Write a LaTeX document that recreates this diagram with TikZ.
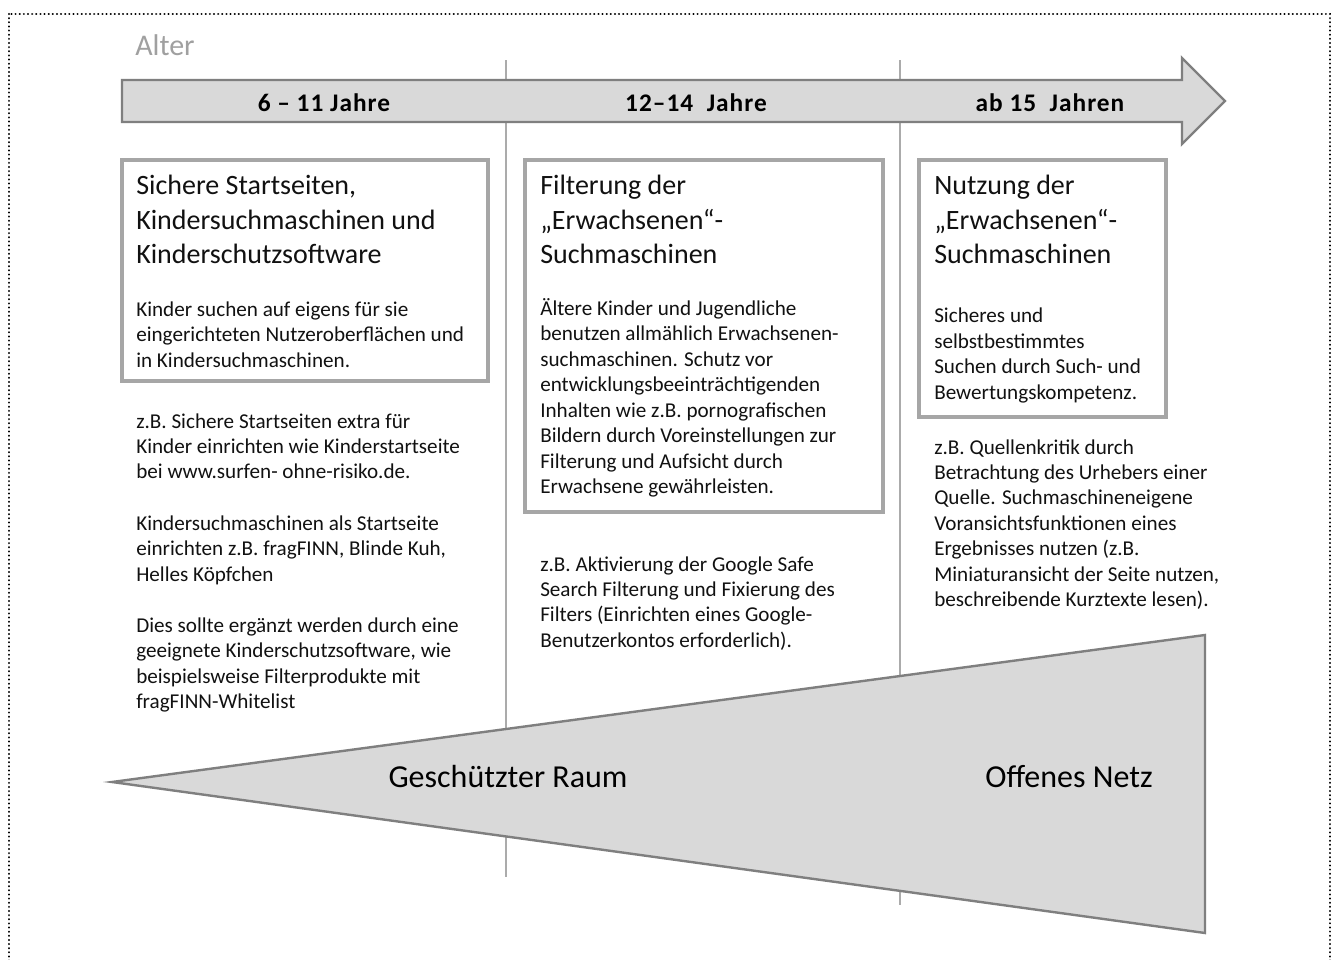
\documentclass[tikz,border=0pt]{standalone}
\usepackage{fontspec}
\setmainfont{Carlito}
\newfontfamily\hdrfont[LetterSpace=4]{Carlito}
\definecolor{shapefill}{HTML}{D9D9D9}
\definecolor{shapeline}{HTML}{7F7F7F}
\definecolor{boxgray}{HTML}{A6A6A6}
\definecolor{linegray}{HTML}{ABABAB}
\definecolor{altergray}{HTML}{A0A0A0}
\definecolor{txtcol}{HTML}{111111}
\newcommand{\bodyfont}{\fontsize{15.85pt}{19.1pt}\selectfont}
\newcommand{\titlefont}{\fontsize{21pt}{25.9pt}\selectfont}
\newcommand{\blk}[2]{\parbox[t]{#1}{\raggedright #2}}
\tikzset{
  hdr/.style={font=\hdrfont\bfseries\fontsize{19pt}{22pt}\selectfont, anchor=base, inner sep=0pt},
  txt/.style={inner sep=0pt, anchor=base west, text=txtcol},
  frame/.style={draw=boxgray, line width=3pt, fill=white},
  sepline/.style={draw=linegray, line width=1.5pt},
  grayshape/.style={fill=shapefill, draw=shapeline, line width=1.8pt, line join=miter},
  biglabel/.style={font=\fontsize{24pt}{28pt}\selectfont, anchor=base, inner sep=0pt}
}
\begin{document}
\begin{tikzpicture}[x=0.75pt,y=-0.75pt]
\useasboundingbox[fill=white] (0,0) rectangle (1332,960);
% dotted outer frame
\draw[dash pattern=on 0.1pt off 3pt, line cap=round, line width=1.6pt] (9,14) rectangle (1330,980);
% separators
\coordinate (s1t) at (506,60); \coordinate (s1b) at (506,877);
\coordinate (s2t) at (900,60); \coordinate (s2b) at (900,905);
\draw[sepline] (s1t) -- (s1b);
\draw[sepline] (s2t) -- (s2b);
% Alter
\node[anchor=base west, inner sep=0pt, text=altergray, font=\fontsize{22.5pt}{26pt}\selectfont] (alter) at (135,55) {Alter};
% age arrow
\draw[grayshape] (122,80) -- (1182,80) -- (1182,58) -- (1225,101) -- (1182,144) -- (1182,122) -- (122,122) -- cycle;
\node[hdr] (h1) at (324,111) {6 – 11 Jahre};
\node[hdr] (h2) at (696,111) {12–14\ \ Jahre};
\node[hdr] (h3) at (1050,111) {ab 15\ \ Jahren};
% boxes
\draw[frame] (122,160) rectangle (488,381);
\draw[frame] (525,160) rectangle (883,512);
\draw[frame] (919,160) rectangle (1166,417);
% box 1
\node[txt] (t1) at (136,194.5) {\blk{300pt}{\titlefont Sichere Startseiten,\\Kindersuchmaschinen und\\Kinderschutzsoftware}};
\node[txt] (b1) at (136,316.5) {\blk{300pt}{\bodyfont Kinder suchen auf eigens für sie\\eingerichteten Nutzeroberflächen und\\in Kindersuchmaschinen.}};
% box 2
\node[txt] (t2) at (540,194.5) {\blk{300pt}{\titlefont Filterung der\\„Erwachsenen“-\\Suchmaschinen}};
\node[txt] (b2) at (540,315.5) {\blk{300pt}{\bodyfont Ältere Kinder und Jugendliche\\benutzen allmählich Erwachsenen-\\suchmaschinen. Schutz vor\\entwicklungsbeeinträchtigenden\\Inhalten wie z.B. pornografischen\\Bildern durch Voreinstellungen zur\\Filterung und Aufsicht durch\\Erwachsene gewährleisten.}};
% box 3
\node[txt] (t3) at (934,194.5) {\blk{300pt}{\titlefont Nutzung der\\„Erwachsenen“-\\Suchmaschinen}};
\node[txt] (b3) at (934,322.7) {\blk{300pt}{\bodyfont Sicheres und\\selbstbestimmtes\\Suchen durch Such- und\\Bewertungskompetenz.}};
% examples
\node[txt] (e1) at (136,428) {\blk{300pt}{\bodyfont z.B. Sichere Startseiten extra für\\Kinder einrichten wie Kinderstartseite\\bei www.surfen- ohne-risiko.de.\\[19.3pt]Kindersuchmaschinen als Startseite\\einrichten z.B. fragFINN, Blinde Kuh,\\Helles Köpfchen\\[19.3pt]Dies sollte ergänzt werden durch eine\\geeignete Kinderschutzsoftware, wie\\beispielsweise Filterprodukte mit\\fragFINN-Whitelist}};
\node[txt] (e2) at (540,571) {\blk{300pt}{\bodyfont z.B. Aktivierung der Google Safe\\Search Filterung und Fixierung des\\Filters (Einrichten eines Google-\\Benutzerkontos erforderlich).}};
\node[txt] (e3) at (934,454) {\blk{300pt}{\bodyfont z.B. Quellenkritik durch\\Betrachtung des Urhebers einer\\Quelle. Suchmaschineneigene\\Voransichtsfunktionen eines\\Ergebnisses nutzen (z.B.\\Miniaturansicht der Seite nutzen,\\beschreibende Kurztexte lesen).}};
% wedge
\draw[grayshape] (112,782) -- (1205,635) -- (1205,933) -- cycle;
\node[biglabel] (g) at (508,787) {Geschützter Raum};
\node[biglabel] (o) at (1069,787) {Offenes Netz};
\end{tikzpicture}
\end{document}
